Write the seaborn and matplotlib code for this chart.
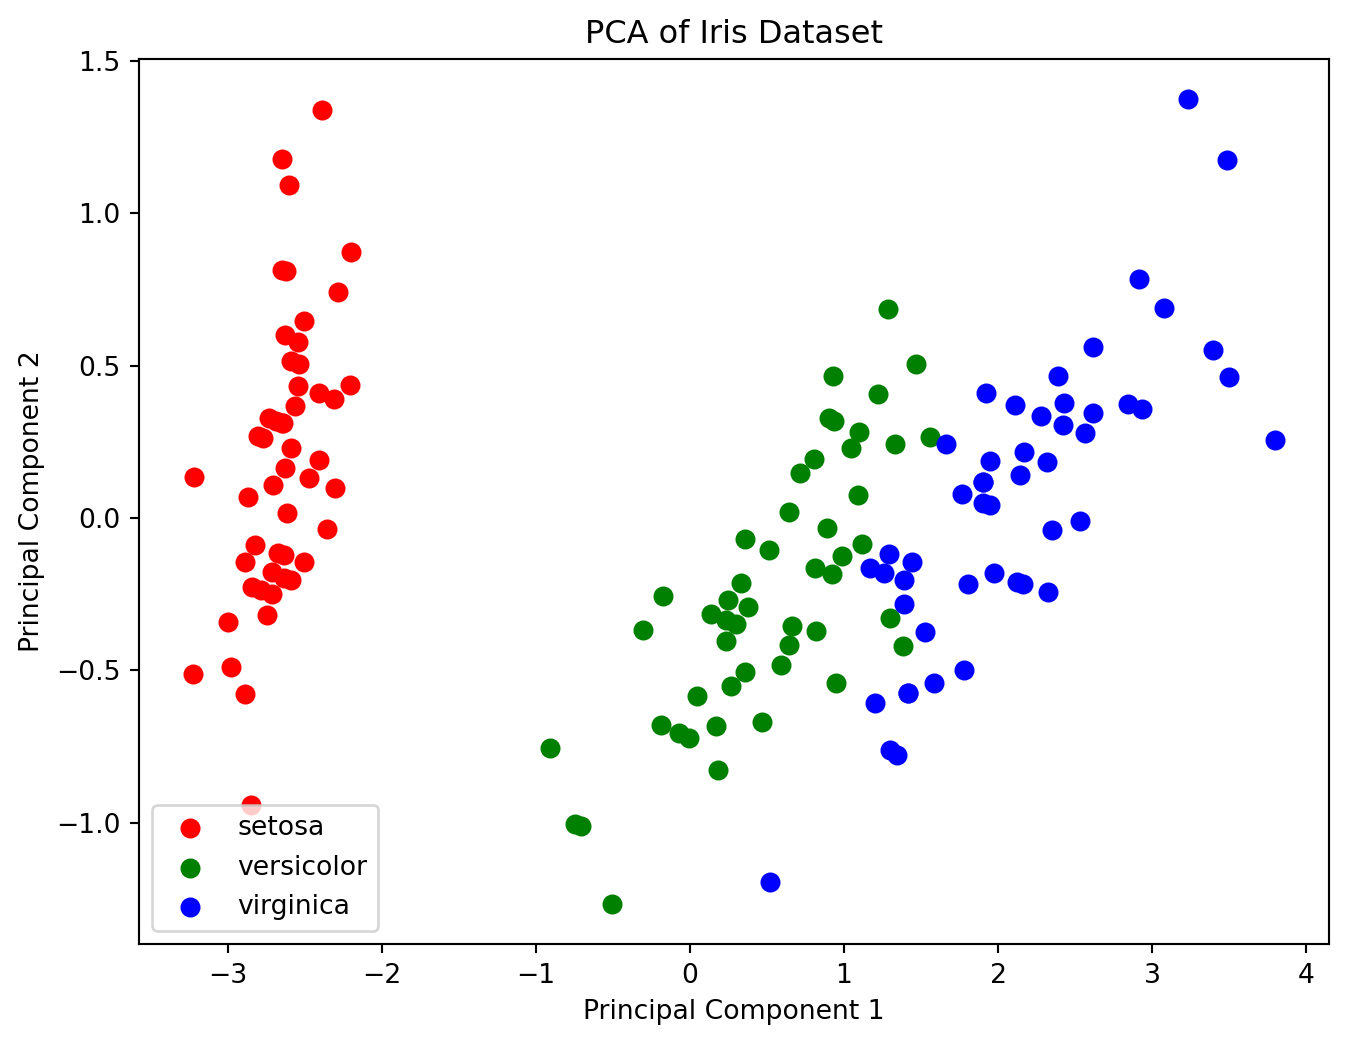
import matplotlib
matplotlib.use("Agg")
import matplotlib.pyplot as plt
import seaborn as sns

# PCA coordinates (PC1, PC2) per species
setosa_pc1 = [-2.684, -2.714, -2.889, -2.745, -2.729, -2.281, -2.821, -2.626, -2.886, -2.673,
              -2.507, -2.613, -2.786, -3.224, -2.645, -2.386, -2.624, -2.648, -2.200, -2.588,
              -2.310, -2.544, -3.216, -2.303, -2.356, -2.507, -2.469, -2.562, -2.640, -2.632,
              -2.587, -2.410, -2.649, -2.599, -2.637, -2.866, -2.625, -2.801, -2.981, -2.590,
              -2.770, -2.849, -2.997, -2.406, -2.209, -2.714, -2.538, -2.839, -2.543, -2.703]
setosa_pc2 = [0.319, -0.177, -0.145, -0.318, 0.327, 0.741, -0.089, 0.163, -0.578, -0.114,
              0.645, 0.015, -0.235, -0.511, 1.179, 1.338, 0.811, 0.312, 0.873, 0.514,
              0.391, 0.433, 0.133, 0.099, -0.037, -0.146, 0.131, 0.368, 0.312, -0.197,
              -0.204, 0.411, 0.813, 1.093, -0.121, 0.069, 0.599, 0.269, -0.488, 0.229,
              0.264, -0.941, -0.342, 0.189, 0.437, -0.250, 0.504, -0.228, 0.579, 0.108]

versicolor_pc1 = [1.285, 0.932, 1.464, 0.183, 1.088, 0.642, 1.095, -0.749, 1.044, -0.009,
                  -0.508, 0.512, 0.265, 0.985, -0.174, 0.928, 0.660, 0.236, 0.945, 0.045,
                  1.116, 0.358, 1.298, 0.922, 0.715, 0.900, 1.332, 1.558, 0.813, -0.306,
                  -0.068, -0.190, 0.136, 1.380, 0.588, 0.807, 1.221, 0.815, 0.246, 0.166,
                  0.465, 0.891, 0.231, -0.705, 0.357, 0.332, 0.376, 0.643, -0.906, 0.299]
versicolor_pc2 = [0.685, 0.318, 0.504, -0.828, 0.075, -0.418, 0.283, -1.005, 0.228, -0.723,
                  -1.266, -0.104, -0.550, -0.125, -0.255, 0.467, -0.353, -0.334, -0.543, -0.584,
                  -0.085, -0.069, -0.328, -0.183, 0.149, 0.329, 0.244, 0.267, -0.163, -0.368,
                  -0.705, -0.680, -0.314, -0.421, -0.484, 0.194, 0.408, -0.372, -0.269, -0.682,
                  -0.671, -0.034, -0.404, -1.012, -0.505, -0.213, -0.293, 0.018, -0.756, -0.349]

virginica_pc1 = [2.531, 1.415, 2.617, 1.972, 2.350, 3.397, 0.521, 2.933, 2.321, 2.917,
                 1.662, 1.803, 2.166, 1.346, 1.586, 1.904, 1.950, 3.487, 3.796, 1.301,
                 2.428, 1.199, 3.500, 1.389, 2.275, 2.614, 1.259, 1.291, 2.124, 2.388,
                 2.842, 3.231, 2.159, 1.444, 1.781, 3.076, 2.144, 1.905, 1.169, 2.108,
                 2.314, 1.922, 1.415, 2.563, 2.419, 1.944, 1.527, 1.764, 1.901, 1.390]
virginica_pc2 = [-0.010, -0.575, 0.344, -0.180, -0.040, 0.551, -1.193, 0.356, -0.244, 0.783,
                 0.242, -0.216, 0.216, -0.777, -0.540, 0.119, 0.042, 1.176, 0.257, -0.761,
                 0.378, -0.606, 0.461, -0.204, 0.335, 0.561, -0.180, -0.117, -0.210, 0.465,
                 0.375, 1.374, -0.217, -0.143, -0.500, 0.688, 0.140, 0.049, -0.165, 0.372,
                 0.184, 0.409, -0.575, 0.278, 0.305, 0.188, -0.375, 0.079, 0.117, -0.283]

species = ['setosa', 'versicolor', 'virginica']
colors = ['red', 'green', 'blue']

W, H, DPI = 1349, 1046, 192
fig = plt.figure(figsize=(W / DPI, H / DPI), dpi=DPI)
ax = fig.add_axes([139 / W, 1 - 944 / H, 1190 / W, 885 / H])

groups = [(setosa_pc1, setosa_pc2), (versicolor_pc1, versicolor_pc2), (virginica_pc1, virginica_pc2)]
for name, color, (x, y) in zip(species, colors, groups):
    sns.scatterplot(x=x, y=y, color=color, label=name, s=36,
                    edgecolor=color, linewidth=1.5, ax=ax)

ax.set_title('PCA of Iris Dataset')
ax.set_xlabel('Principal Component 1')
ax.set_ylabel('Principal Component 2')
ax.legend(loc='lower left')

fig.savefig('out.png', dpi=DPI)
